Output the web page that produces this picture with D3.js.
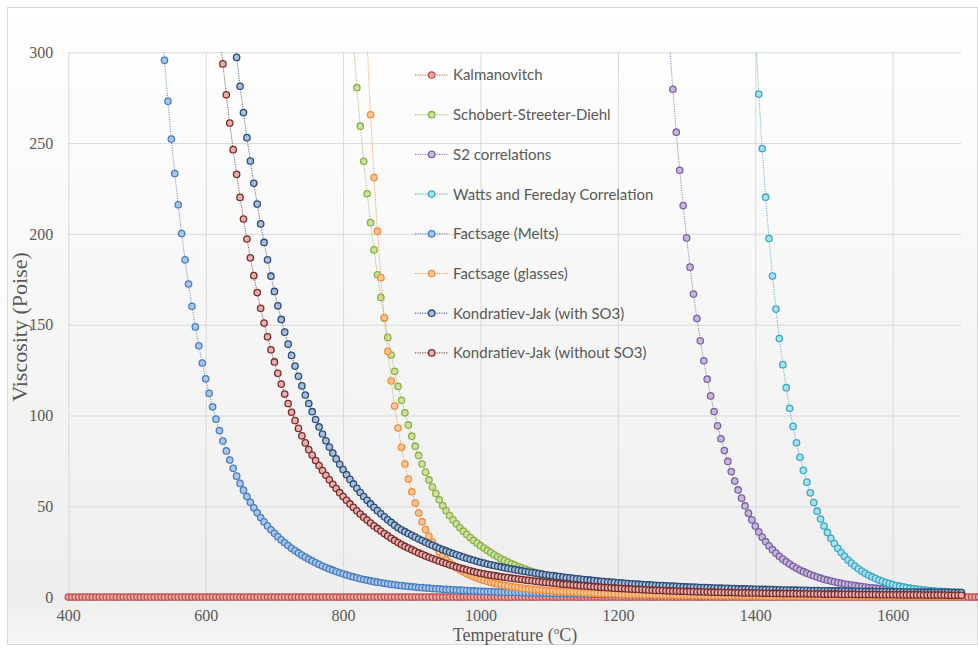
<!DOCTYPE html>
<html>
<head>
<meta charset="utf-8">
<script src="https://cdn.jsdelivr.net/npm/d3@7"></script>
<style>
  html, body { margin: 0; padding: 0; background: #fff; }
  svg { display: block; }
</style>
</head>
<body>
<svg id="chart" width="978" height="649"></svg>
<script>
// viscosity (Poise) every 5 degC, from the series start temperature up to 1700 degC
const seriesNames = [
    'Kalmanovitch', 'Schobert-Streeter-Diehl', 'S2 correlations', 'Watts and Fereday Correlation',
    'Factsage (Melts)', 'Factsage (glasses)', 'Kondratiev-Jak (with SO3)', 'Kondratiev-Jak (without SO3)'
]
const seriesStart = [400, 815, 1275, 1400, 535, 835, 640, 620]
const STEP = 5

const kalmanovitch = [
    0,0,0,0,0,0,0,0,0,0, 0,0,0,0,0,0,0,0,0,0, 0,0,0,0,0,0,0,0,0,0,
    0,0,0,0,0,0,0,0,0,0, 0,0,0,0,0,0,0,0,0,0, 0,0,0,0,0,0,0,0,0,0,
    0,0,0,0,0,0,0,0,0,0, 0,0,0,0,0,0,0,0,0,0, 0,0,0,0,0,0,0,0,0,0,
    0,0,0,0,0,0,0,0,0,0, 0,0,0,0,0,0,0,0,0,0, 0,0,0,0,0,0,0,0,0,0,
    0,0,0,0,0,0,0,0,0,0, 0,0,0,0,0,0,0,0,0,0, 0,0,0,0,0,0,0,0,0,0,
    0,0,0,0,0,0,0,0,0,0, 0,0,0,0,0,0,0,0,0,0, 0,0,0,0,0,0,0,0,0,0,
    0,0,0,0,0,0,0,0,0,0, 0,0,0,0,0,0,0,0,0,0, 0,0,0,0,0,0,0,0,0,0,
    0,0,0,0,0,0,0,0,0,0, 0,0,0,0,0,0,0,0,0,0, 0,0,0,0,0,0,0,0,0,0,
    0,0,0,0,0,0,0,0,0,0, 0,0,0,0,0,0,0,0,0,0, 0,0,0,0,0,0,0,0,0,0,
    0
]
const schobert = [
    306, 280.5, 259.3, 240.0, 222.1, 206.2, 191.2, 177.5, 165.0, 153.6,
    143.0, 133.3, 124.3, 116.0, 108.4, 101.5, 94.8, 88.6, 83.1, 78.0,
    73.3, 68.8, 64.5, 60.6, 57.0, 53.6, 50.4, 47.5, 44.9, 42.5,
    40.3, 38.2, 36.3, 34.5, 32.8, 31.2, 29.7, 28.3, 27.0, 25.7,
    24.5, 23.3, 22.2, 21.1, 20.2, 19.3, 18.4, 17.6, 16.8, 16.1,
    15.4, 14.7, 14.1, 13.5, 12.9, 12.4, 11.9, 11.4, 10.9, 10.5,
    10.1, 9.7, 9.3, 8.9, 8.6, 8.3, 8.0, 7.7, 7.4, 7.1,
    6.9, 6.6, 6.4, 6.2, 6.0, 5.8, 5.6, 5.4, 5.2, 5.0,
    4.9, 4.7, 4.6, 4.4, 4.3, 4.1, 4.0, 3.9, 3.7, 3.6,
    3.5, 3.4, 3.3, 3.2, 3.1, 3.0, 2.9, 2.8, 2.7, 2.7,
    2.6, 2.5, 2.4, 2.4, 2.3, 2.2, 2.2, 2.1, 2.0, 2.0,
    1.9, 1.9, 1.8, 1.8, 1.7, 1.7, 1.6, 1.6, 1.6, 1.5,
    1.5, 1.4, 1.4, 1.4, 1.3, 1.3, 1.3, 1.2, 1.2, 1.2,
    1.1, 1.1, 1.1, 1.1, 1.0, 1.0, 1.0, 1.0, 0.9, 0.9,
    0.9, 0.9, 0.9, 0.8, 0.8, 0.8, 0.8, 0.8, 0.8, 0.7,
    0.7, 0.7, 0.7, 0.7, 0.7, 0.7, 0.6, 0.6, 0.6, 0.6,
    0.6, 0.6, 0.6, 0.6, 0.5, 0.5, 0.5, 0.5, 0.5, 0.5,
    0.5, 0.5, 0.5, 0.5, 0.5, 0.5, 0.5, 0.5
]
const s2 = [
    306, 279.6, 256.0, 235.0, 215.6, 197.8, 181.7, 166.9, 153.4, 141.1,
    130.1, 120.0, 110.8, 102.2, 94.3, 87.2, 80.7, 74.7, 69.1, 63.9,
    59.0, 54.5, 50.2, 46.2, 42.5, 39.1, 35.9, 33.0, 30.5, 28.2,
    26.1, 24.2, 22.5, 20.9, 19.5, 18.2, 17.0, 15.9, 14.9, 14.0,
    13.2, 12.4, 11.7, 11.0, 10.4, 9.8, 9.3, 8.8, 8.4, 8.0,
    7.6, 7.2, 6.9, 6.6, 6.3, 6.0, 5.8, 5.5, 5.3, 5.1,
    4.9, 4.7, 4.5, 4.4, 4.2, 4.1, 3.9, 3.8, 3.7, 3.6,
    3.5, 3.4, 3.3, 3.2, 3.1, 3.0, 2.9, 2.8, 2.8, 2.7,
    2.6, 2.6, 2.5, 2.5, 2.4, 2.4
]
const watts = [
    312, 277.0, 247.0, 220.2, 197.4, 176.8, 158.6, 142.4, 128.0, 115.3,
    104.0, 94.0, 85.0, 77.0, 69.8, 63.3, 57.4, 52.1, 47.3, 43.0,
    39.1, 35.6, 32.4, 29.5, 26.9, 24.5, 22.4, 20.4, 18.7, 17.1,
    15.6, 14.3, 13.1, 12.0, 11.1, 10.2, 9.4, 8.7, 8.0, 7.4,
    6.9, 6.4, 6.0, 5.6, 5.2, 4.9, 4.6, 4.4, 4.1, 3.9,
    3.7, 3.5, 3.4, 3.2, 3.1, 3.0, 2.9, 2.8, 2.7, 2.6,
    2.5
]
const melts = [
    320, 295.6, 273.0, 252.2, 233.2, 216.0, 200.2, 185.7, 172.4, 160.1,
    148.8, 138.4, 128.9, 120.2, 112.2, 104.8, 98.0, 91.7, 85.9, 80.5,
    75.5, 70.9, 66.6, 62.6, 58.9, 55.4, 52.2, 49.2, 46.4, 43.8,
    41.4, 39.2, 37.1, 35.1, 33.3, 31.5, 29.9, 28.4, 26.9, 25.6,
    24.3, 23.1, 22.0, 20.9, 19.9, 18.9, 18.0, 17.1, 16.3, 15.5,
    14.8, 14.1, 13.4, 12.8, 12.2, 11.6, 11.1, 10.6, 10.1, 9.7,
    9.3, 8.9, 8.5, 8.2, 7.9, 7.6, 7.3, 7.0, 6.8, 6.5,
    6.3, 6.1, 5.9, 5.7, 5.5, 5.3, 5.2, 5.0, 4.9, 4.7,
    4.6, 4.5, 4.3, 4.2, 4.1, 4.0, 3.9, 3.8, 3.7, 3.6,
    3.5, 3.4, 3.3, 3.2, 3.1, 3.0, 3.0, 2.9, 2.8, 2.8,
    2.7, 2.6, 2.6, 2.5, 2.5, 2.4, 2.4, 2.3, 2.3, 2.2,
    2.2, 2.1, 2.1, 2.0, 2.0, 2.0, 1.9, 1.9, 1.9, 1.8,
    1.8, 1.8, 1.7, 1.7, 1.7, 1.6, 1.6, 1.6, 1.6, 1.5,
    1.5, 1.5, 1.5, 1.4, 1.4, 1.4, 1.4, 1.3, 1.3, 1.3,
    1.3, 1.3, 1.2, 1.2, 1.2, 1.2, 1.2, 1.1, 1.1, 1.1,
    1.1, 1.1, 1.1, 1.0, 1.0, 1.0, 1.0, 1.0, 0.9, 0.9,
    0.9, 0.9, 0.9, 0.9, 0.9, 0.9, 0.8, 0.8, 0.8, 0.8,
    0.8, 0.8, 0.8, 0.8, 0.8, 0.7, 0.7, 0.7, 0.7, 0.7,
    0.7, 0.7, 0.7, 0.7, 0.7, 0.7, 0.6, 0.6, 0.6, 0.6,
    0.6, 0.6, 0.6, 0.6, 0.6, 0.6, 0.6, 0.6, 0.5, 0.5,
    0.5, 0.5, 0.5, 0.5, 0.5, 0.5, 0.5, 0.5, 0.5, 0.5,
    0.5, 0.5, 0.5, 0.5, 0.4, 0.4, 0.4, 0.4, 0.4, 0.4,
    0.4, 0.4, 0.4, 0.4, 0.4, 0.4, 0.4, 0.4, 0.4, 0.4,
    0.4, 0.4, 0.4, 0.4
]
const glasses = [
    305, 265.6, 231.0, 201.5, 175.9, 153.9, 135.3, 119.0, 105.2, 93.1,
    82.5, 73.3, 65.0, 58.0, 51.8, 46.3, 41.5, 37.2, 33.5, 30.3,
    27.5, 24.9, 22.6, 20.7, 19.0, 17.5, 16.2, 15.0, 13.9, 12.9,
    12.0, 11.2, 10.5, 9.8, 9.2, 8.6, 8.1, 7.6, 7.2, 6.8,
    6.4, 6.1, 5.8, 5.5, 5.2, 5.0, 4.7, 4.5, 4.3, 4.1,
    3.9, 3.8, 3.6, 3.5, 3.3, 3.2, 3.1, 3.0, 2.9, 2.8,
    2.7, 2.6, 2.5, 2.4, 2.3, 2.2, 2.2, 2.1, 2.0, 2.0,
    1.9, 1.8, 1.8, 1.7, 1.6, 1.6, 1.5, 1.5, 1.4, 1.4,
    1.4, 1.3, 1.3, 1.3, 1.2, 1.2, 1.2, 1.1, 1.1, 1.1,
    1.0, 1.0, 1.0, 1.0, 0.9, 0.9, 0.9, 0.9, 0.8, 0.8,
    0.8, 0.8, 0.8, 0.7, 0.7, 0.7, 0.7, 0.7, 0.7, 0.6,
    0.6, 0.6, 0.6, 0.6, 0.6, 0.6, 0.5, 0.5, 0.5, 0.5,
    0.5, 0.5, 0.5, 0.5, 0.5, 0.5, 0.4, 0.4, 0.4, 0.4,
    0.4, 0.4, 0.4, 0.4, 0.4, 0.4, 0.4, 0.4, 0.4, 0.4,
    0.4, 0.4, 0.4, 0.3, 0.3, 0.3, 0.3, 0.3, 0.3, 0.3,
    0.3, 0.3, 0.3, 0.3, 0.3, 0.3, 0.3, 0.3, 0.3, 0.3,
    0.3, 0.3, 0.3, 0.3, 0.3, 0.3, 0.3, 0.3, 0.3, 0.3,
    0.3, 0.3, 0.3, 0.3
]
const kjWithSO3 = [
    315, 297.2, 281.3, 266.8, 253.0, 240.1, 227.9, 216.4, 205.5, 195.3,
    185.7, 176.7, 168.3, 160.4, 152.9, 145.9, 139.3, 133.1, 127.2, 121.6,
    116.3, 111.3, 106.6, 102.1, 97.8, 93.7, 89.8, 86.1, 82.6, 79.3,
    76.1, 73.1, 70.2, 67.4, 64.8, 62.3, 59.9, 57.6, 55.4, 53.3,
    51.3, 49.4, 47.6, 45.9, 44.2, 42.6, 41.1, 39.6, 38.2, 37.1,
    36.0, 35.0, 34.0, 33.0, 32.0, 31.1, 30.2, 29.3, 28.5, 27.7,
    26.9, 26.1, 25.4, 24.7, 24.0, 23.3, 22.7, 22.0, 21.4, 20.8,
    20.3, 19.7, 19.2, 18.7, 18.2, 17.8, 17.4, 17.0, 16.6, 16.2,
    15.8, 15.5, 15.1, 14.8, 14.4, 14.1, 13.8, 13.5, 13.2, 12.9,
    12.6, 12.3, 12.0, 11.8, 11.5, 11.3, 11.0, 10.8, 10.6, 10.3,
    10.1, 9.9, 9.7, 9.5, 9.3, 9.1, 8.9, 8.7, 8.6, 8.4,
    8.2, 8.1, 7.9, 7.8, 7.6, 7.5, 7.3, 7.2, 7.1, 6.9,
    6.8, 6.7, 6.6, 6.5, 6.4, 6.3, 6.2, 6.1, 6.0, 5.9,
    5.8, 5.7, 5.6, 5.5, 5.5, 5.4, 5.3, 5.2, 5.2, 5.1,
    5.0, 5.0, 4.9, 4.8, 4.8, 4.7, 4.7, 4.6, 4.5, 4.5,
    4.4, 4.4, 4.3, 4.3, 4.2, 4.2, 4.1, 4.1, 4.0, 4.0,
    3.9, 3.9, 3.9, 3.8, 3.8, 3.7, 3.7, 3.7, 3.6, 3.6,
    3.6, 3.5, 3.5, 3.5, 3.4, 3.4, 3.4, 3.3, 3.3, 3.3,
    3.2, 3.2, 3.2, 3.2, 3.1, 3.1, 3.1, 3.0, 3.0, 3.0,
    3.0, 2.9, 2.9, 2.9, 2.9, 2.8, 2.8, 2.8, 2.8, 2.7,
    2.7, 2.7, 2.7, 2.7, 2.6, 2.6, 2.6, 2.6, 2.6, 2.5,
    2.5, 2.5, 2.5
]
const kjWithoutSO3 = [
    312, 293.6, 276.6, 261.0, 246.4, 232.8, 220.1, 208.2, 197.2, 186.8,
    177.0, 167.7, 159.0, 150.9, 143.3, 136.2, 129.5, 123.2, 117.3, 111.8,
    106.6, 101.8, 97.2, 92.9, 88.8, 84.9, 81.2, 78.2, 75.2, 72.4,
    69.7, 67.1, 64.6, 62.1, 59.8, 57.5, 55.4, 53.3, 51.3, 49.4,
    47.5, 45.7, 44.0, 42.4, 40.8, 39.2, 37.8, 36.4, 35.0, 33.7,
    32.4, 31.2, 30.0, 28.9, 27.9, 27.0, 26.1, 25.2, 24.3, 23.5,
    22.7, 21.9, 21.2, 20.5, 19.8, 19.1, 18.5, 17.8, 17.2, 16.6,
    16.1, 15.5, 15.0, 14.5, 14.0, 13.5, 13.1, 12.8, 12.4, 12.1,
    11.8, 11.5, 11.2, 10.9, 10.7, 10.4, 10.2, 9.9, 9.7, 9.4,
    9.2, 9.0, 8.7, 8.5, 8.3, 8.1, 7.9, 7.7, 7.5, 7.3,
    7.1, 7.0, 6.8, 6.6, 6.5, 6.3, 6.2, 6.0, 5.9, 5.7,
    5.6, 5.4, 5.3, 5.2, 5.1, 4.9, 4.8, 4.7, 4.6, 4.5,
    4.4, 4.3, 4.2, 4.1, 4.0, 3.9, 3.8, 3.7, 3.7, 3.6,
    3.5, 3.4, 3.4, 3.3, 3.2, 3.2, 3.1, 3.0, 3.0, 2.9,
    2.9, 2.8, 2.8, 2.7, 2.7, 2.6, 2.6, 2.5, 2.5, 2.5,
    2.4, 2.4, 2.3, 2.3, 2.3, 2.2, 2.2, 2.2, 2.1, 2.1,
    2.1, 2.0, 2.0, 2.0, 1.9, 1.9, 1.9, 1.9, 1.8, 1.8,
    1.8, 1.8, 1.7, 1.7, 1.7, 1.7, 1.6, 1.6, 1.6, 1.6,
    1.6, 1.5, 1.5, 1.5, 1.5, 1.5, 1.4, 1.4, 1.4, 1.4,
    1.4, 1.4, 1.3, 1.3, 1.3, 1.3, 1.3, 1.3, 1.2, 1.2,
    1.2, 1.2, 1.2, 1.2, 1.2, 1.1, 1.1, 1.1, 1.1, 1.1,
    1.1, 1.1, 1.0, 1.0, 1.0, 1.0, 1.0
]
const seriesValues = [kalmanovitch, schobert, s2, watts, melts, glasses, kjWithSO3, kjWithoutSO3]

const xTicks = [400, 600, 800, 1000, 1200, 1400, 1600]
const yTicks = [0, 50, 100, 150, 200, 250, 300]

// marker outline / fill per series
const STROKE = ['#c0504d', '#8db04a', '#7c62a0', '#3fa6c2', '#4a7dbb', '#f08c3c', '#2c4d75', '#772c2a']
const FILL = ['#eeaaa8', '#c9e39f', '#c7b6de', '#a6e2f0', '#a8c6ee', '#fcc996', '#a9bedc', '#e6b0ae']
const TEXT = '#595959'
const GRID = '#d9d9d9'
const SERIF = "'Liberation Serif', 'Times New Roman', serif"
const SANS = "Lato, 'Open Sans', sans-serif"

const svg = d3.select('#chart')
const x = d3.scaleLinear().domain([400, 1700]).range([68.3, 961.4])
const y = d3.scaleLinear().domain([0, 300]).range([597.1, 52.3])

// background
const grad = svg.append('defs').append('linearGradient')
    .attr('id', 'bg').attr('x1', 0).attr('y1', 0).attr('x2', 0).attr('y2', 1)
grad.append('stop').attr('offset', '0%').attr('stop-color', '#ffffff')
grad.append('stop').attr('offset', '93%').attr('stop-color', '#eeeeee')
grad.append('stop').attr('offset', '100%').attr('stop-color', '#f6f6f6')

svg.select('defs').append('clipPath').attr('id', 'plot')
    .append('rect')
    .attr('x', x(400)).attr('y', y(300))
    .attr('width', x(1700) - x(400)).attr('height', y(0) - y(300))

svg.append('rect')
    .attr('x', 7.5).attr('y', 7.5).attr('width', 970).attr('height', 637)
    .attr('fill', 'url(#bg)').attr('stroke', GRID)

// grid + tick labels
const yAxis = svg.append('g')
    .attr('transform', `translate(${x(400)},0)`)
    .call(d3.axisLeft(y).tickValues(yTicks).tickSize(-(x(1700) - x(400))).tickPadding(15))
const xAxis = svg.append('g')
    .attr('transform', `translate(0,${y(0)})`)
    .call(d3.axisBottom(x).tickValues(xTicks).tickFormat(d3.format('d'))
        .tickSize(-(y(0) - y(300))).tickPadding(13))

;[yAxis, xAxis].forEach((g) => {
    g.select('.domain').remove()
    g.selectAll('line').attr('stroke', GRID)
    g.selectAll('text')
        .attr('fill', TEXT)
        .style('font-family', SERIF)
        .style('font-size', '16px')
})

// axis titles
svg.append('text')
    .attr('transform', 'translate(27,327) rotate(-90)')
    .attr('text-anchor', 'middle')
    .attr('fill', TEXT)
    .style('font-family', SERIF)
    .style('font-size', '22px')
    .text('Viscosity (Poise)')

const xTitle = svg.append('text')
    .attr('x', 515).attr('y', 641)
    .attr('text-anchor', 'middle')
    .attr('fill', TEXT)
    .style('font-family', SERIF)
    .style('font-size', '18px')
xTitle.append('tspan').text('Temperature (')
xTitle.append('tspan').attr('dy', -7).style('font-size', '11px').text('o')
xTitle.append('tspan').attr('dy', 7).text('C)')

// series
const line = d3.line()
    .x((d) => x(d.t))
    .y((d) => y(d.v))

const plot = svg.append('g')

seriesValues.forEach((values, i) => {
    const points = values.map((v, k) => ({t: seriesStart[i] + k * STEP, v: v}))
    const g = plot.append('g')

    g.append('path')
        .datum(points)
        .attr('clip-path', 'url(#plot)')
        .attr('d', line)
        .attr('fill', 'none')
        .attr('stroke', STROKE[i])
        .attr('stroke-width', 1)
        .attr('stroke-dasharray', '1.2,1.2')
        .attr('opacity', 0.8)

    g.selectAll('circle')
        .data(points.filter((d) => d.v <= 300))
        .enter().append('circle')
        .attr('cx', (d) => x(d.t))
        .attr('cy', (d) => y(d.v))
        .attr('r', 3.2)
        .attr('fill', FILL[i])
        .attr('stroke', STROKE[i])
        .attr('stroke-width', 1.3)
})

// legend
const legend = svg.append('g')
seriesNames.forEach((name, i) => {
    const ly = 75 + i * 39.7
    const item = legend.append('g').attr('transform', `translate(0,${ly})`)
    item.append('line')
        .attr('x1', 415).attr('x2', 448)
        .attr('stroke', STROKE[i])
        .attr('stroke-width', 1)
        .attr('stroke-dasharray', '1.2,1.2')
    item.append('circle')
        .attr('cx', 431.7).attr('r', 3.2)
        .attr('fill', FILL[i])
        .attr('stroke', STROKE[i])
        .attr('stroke-width', 1.3)
    item.append('text')
        .attr('x', 453).attr('dy', '0.36em')
        .attr('fill', TEXT)
        .style('font-family', SANS)
        .style('font-size', '15px')
        .text(name)
})
</script>
</body>
</html>
